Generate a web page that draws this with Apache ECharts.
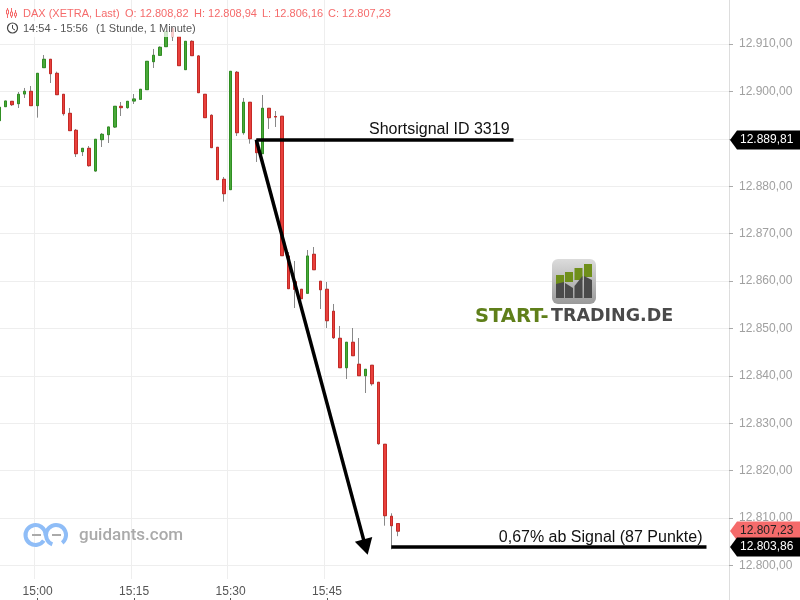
<!DOCTYPE html>
<html><head><meta charset="utf-8"><style>html,body{margin:0;padding:0;background:#fff}#c{width:800px;height:600px}</style>
<script src="https://cdn.jsdelivr.net/npm/echarts@6/dist/echarts.min.js"></script></head>
<body><div id="c"></div><script>
const opens=[12893.83,12896.78,12897.90,12897.41,12899.45,12900.01,12896.99,12905.01,12906.77,12903.81,12899.38,12895.37,12891.79,12887.29,12887.99,12883.21,12889.82,12890.87,12892.49,12896.85,12896.57,12897.97,12898.33,12900.37,12906.27,12907.61,12909.44,12913.31,12911.55,12904.59,12910.56,12907.47,12899.38,12894.95,12888.20,12881.45,12879.27,12904.03,12891.29,12897.70,12889.68,12886.86,12896.43,12894.70,12894.75,12865.27,12859.85,12858.25,12857.41,12865.63,12859.94,12858.25,12853.61,12847.91,12841.71,12847.07,12842.43,12840.02,12842.22,12838.63,12825.55,12810.36,12808.82];
const closes=[12896.64,12897.97,12897.20,12899.38,12900.01,12896.99,12903.81,12906.77,12903.74,12899.31,12895.30,12891.72,12886.86,12887.99,12884.33,12889.89,12890.94,12892.49,12896.85,12896.57,12897.90,12898.40,12900.44,12906.34,12907.61,12909.30,12912.60,12911.55,12905.43,12910.56,12907.54,12899.73,12894.46,12888.13,12881.38,12878.42,12904.23,12891.29,12897.70,12890.02,12887.07,12896.43,12894.45,12894.60,12865.34,12858.38,12858.25,12856.27,12865.27,12862.38,12858.16,12851.62,12848.04,12841.71,12847.07,12844.24,12840.02,12841.37,12838.33,12825.68,12810.49,12808.38,12807.23];
const lows=[12893.83,12896.78,12896.92,12896.50,12898.61,12896.99,12894.46,12905.01,12901.77,12899.31,12894.88,12891.72,12886.16,12886.37,12884.12,12883.07,12888.27,12889.11,12892.28,12894.81,12896.36,12897.34,12898.33,12900.37,12904.94,12907.61,12909.44,12910.63,12905.43,12904.59,12907.54,12899.73,12894.46,12888.13,12881.38,12876.74,12879.27,12890.59,12890.86,12888.97,12885.11,12886.86,12892.07,12892.49,12865.34,12858.38,12854.30,12856.27,12857.41,12862.38,12854.09,12850.08,12847.76,12841.71,12839.32,12844.24,12840.02,12836.37,12837.91,12825.46,12808.38,12803.40,12806.16];
const highs=[12896.64,12897.97,12897.90,12899.87,12900.72,12901.14,12903.81,12907.68,12906.77,12904.16,12899.38,12896.50,12892.07,12887.99,12888.48,12889.89,12891.22,12892.49,12896.85,12897.76,12897.90,12899.45,12900.44,12906.34,12908.95,12909.51,12912.60,12913.50,12911.55,12910.56,12910.77,12907.68,12899.38,12895.16,12888.20,12881.94,12904.23,12904.30,12898.61,12897.70,12889.68,12899.24,12896.43,12895.86,12894.75,12866.12,12864.22,12858.25,12866.54,12867.17,12859.94,12859.79,12855.15,12850.51,12847.07,12850.08,12847.97,12841.37,12842.22,12838.63,12825.55,12810.99,12808.94];
const priceTicks=[12800,12810,12820,12830,12840,12850,12860,12870,12880,12890,12900,12910];
const timeLabels=['15:00','15:15','15:30','15:45'];
const tagPrices=[12889.81,12807.23,12803.86];
const signalPrice=12889.81, targetPrice=12803.86;
const categories=[];
for(let i=0;i<114;i++){const m=14*60+54+i;categories.push(String(Math.floor(m/60)).padStart(2,'0')+':'+String(m%60).padStart(2,'0'));}
const de=v=>v.toLocaleString('de-DE',{minimumFractionDigits:2,maximumFractionDigits:2});
const showTime=(i,v)=>timeLabels.includes(v);
const FONT='"Liberation Sans", sans-serif';
const T=(text,x,y,fill,font)=>({type:'text',z:200,style:{text,x,y,fill,font:font||('11px '+FONT),align:'left',verticalAlign:'middle'}});
const R=(x,y,w,h,fill)=>({type:'rect',z:90,shape:{x,y,width:w,height:h},style:{fill}});
const P=(points,fill)=>({type:'polygon',z:91,shape:{points},style:{fill}});
const chart=echarts.init(document.getElementById('c'),null,{renderer:'canvas'});
chart.setOption({
 animation:false,
 grid:{left:-4.2,right:71,top:0,bottom:21,outerBoundsMode:'none'},
 xAxis:{type:'category',data:categories,boundaryGap:true,offset:19,
  axisLine:{show:false},axisTick:{show:true,alignWithLabel:true,interval:showTime,length:3,lineStyle:{color:'#555'}},
  axisLabel:{inside:true,margin:0,interval:showTime,color:'#555',fontFamily:FONT,fontSize:12},
  splitLine:{show:true,interval:showTime,lineStyle:{color:'#eeeeee',width:1}}},
 yAxis:{type:'value',position:'right',min:12797.13,max:12919.28,scale:true,
  axisLine:{show:true,lineStyle:{color:'#dddddd'}},
  axisTick:{show:true,length:4,customValues:priceTicks,lineStyle:{color:'#aaaaaa'}},
  axisLabel:{margin:10,customValues:priceTicks,formatter:v=>de(v),color:'#a0a0a0',fontFamily:FONT,fontSize:12},
  splitLine:{show:true,lineStyle:{color:'#eeeeee',width:1}}},
 series:[
  {type:'candlestick',name:'wick',barWidth:3,z:2,silent:true,
   data:opens.map((o,i)=>[o,closes[i],lows[i],highs[i]]),
   itemStyle:{color:'#888',color0:'#888',borderColor:'#888',borderColor0:'#888',borderWidth:1}},
  {type:'candlestick',name:'DAX',barWidth:3,z:3,
   data:opens.map((o,i)=>[o,closes[i],Math.min(o,closes[i]),Math.max(o,closes[i])]),
   itemStyle:{color:'#4aa83a',color0:'#e8403c',borderColor:'#2f8f22',borderColor0:'#c52a26',borderWidth:1},
   markLine:{silent:true,z:5,symbol:'none',animation:false,
    lineStyle:{color:'#000',width:3.5,type:'solid'},
    data:[
     [{coord:['15:34',signalPrice],symbol:'none',label:{show:true,formatter:'Shortsignal ID 3319',position:'insideEndTop',distance:[4,2],color:'#111',fontFamily:'Liberation Sans',fontSize:16}},{coord:['16:14',signalPrice],symbol:'none'}],
     [{coord:['15:34',signalPrice],symbol:'none',label:{show:false}},{coord:['15:51',targetPrice],symbol:'triangle',symbolSize:[18,16]}],
     [{coord:['15:55',targetPrice],symbol:'none',label:{show:true,formatter:'0,67% ab Signal (87 Punkte)',position:'insideEndTop',distance:[4,2],color:'#111',fontFamily:'Liberation Sans',fontSize:16}},{coord:['16:44',targetPrice],symbol:'none'}]
    ]}},
  {type:'custom',name:'tags',z:20,silent:true,clip:false,data:tagPrices.map((p,i)=>[0,p,i]),encode:{x:0,y:1},
   renderItem:(params,api)=>{
    const y=Math.round(api.coord([0,api.value(1)])[1]);const idx=api.value(2);
    const bg=idx===1?'#f56b6b':'#000', fg=idx===1?'#222':'#fff';
    return {type:'group',children:[
     {type:'polygon',shape:{points:[[730,y],[737,y-9.5],[800,y-9.5],[800,y+9.5],[737,y+9.5]]},style:{fill:bg}},
     {type:'text',style:{text:de(api.value(1)),x:740,y:y,fill:fg,font:'12px '+FONT,align:'left',verticalAlign:'middle'}}
    ]};
   }}
 ],
 graphic:{elements:[
  {type:'line',z:1,shape:{x1:729.5,y1:579,x2:729.5,y2:600},style:{stroke:'#dddddd',lineWidth:1}},
  {type:'rect',z:150,shape:{x:0,y:21,width:197,height:16},style:{fill:'rgba(255,255,255,0.75)'}},
  {type:'line',z:200,shape:{x1:7.5,y1:8,x2:7.5,y2:18},style:{stroke:'#f56b6b',lineWidth:1}},
  {type:'line',z:200,shape:{x1:11.5,y1:8,x2:11.5,y2:18},style:{stroke:'#f56b6b',lineWidth:1}},
  {type:'line',z:200,shape:{x1:15.5,y1:10,x2:15.5,y2:18},style:{stroke:'#f56b6b',lineWidth:1}},
  {type:'rect',z:201,shape:{x:6.5,y:10,width:2,height:4},style:{fill:'#fff',stroke:'#f56b6b'}},
  {type:'rect',z:201,shape:{x:10.5,y:12,width:2,height:4},style:{fill:'#fff',stroke:'#f56b6b'}},
  {type:'rect',z:201,shape:{x:14.5,y:13,width:2,height:3},style:{fill:'#fff',stroke:'#f56b6b'}},
  T('DAX (XETRA, Last)',23,13.5,'#f56b6b'),
  T('O: 12.808,82',125,13.5,'#f56b6b'),T('H: 12.808,94',194,13.5,'#f56b6b'),
  T('L: 12.806,16',262,13.5,'#f56b6b'),T('C: 12.807,23',328,13.5,'#f56b6b'),
  {type:'circle',z:200,shape:{cx:12.5,cy:28,r:5},style:{fill:'none',stroke:'#444',lineWidth:1.2}},
  {type:'polyline',z:200,shape:{points:[[12.5,25],[12.5,28.5],[15,30]]},style:{fill:'none',stroke:'#444',lineWidth:1}},
  T('14:54 - 15:56',23,29,'#555'),T('(1 Stunde, 1 Minute)',96,29,'#555'),
  {type:'arc',z:90,shape:{cx:35.5,cy:535,r:10,startAngle:0.6,endAngle:6.35},style:{fill:'none',stroke:'#8fbdf7',lineWidth:4}},
  {type:'arc',z:90,shape:{cx:56,cy:535,r:10,startAngle:1.95,endAngle:7.18},style:{fill:'none',stroke:'#8fbdf7',lineWidth:4}},
  {type:'line',z:91,shape:{x1:32,y1:535,x2:41,y2:535},style:{stroke:'#aaa',lineWidth:2}},
  {type:'line',z:91,shape:{x1:52,y1:535,x2:61,y2:535},style:{stroke:'#aaa',lineWidth:2}},
  {type:'text',z:90,style:{text:'guidants.com',x:79,y:535.5,fill:'#aaaaaa',font:'500 17px Roboto',align:'left',verticalAlign:'middle'}},
  {type:'rect',z:90,shape:{x:552,y:259,width:44,height:45,r:6},style:{fill:new echarts.graphic.LinearGradient(0,0,0,1,[{offset:0,color:'#dcdcdc'},{offset:1,color:'#9a9a9a'}])}},
  R(556,275,8,9,'#6f8f1a'),R(565,272,8,10,'#6f8f1a'),R(574.5,268,8,12,'#6f8f1a'),R(584,264,8,13,'#6f8f1a'),
  P([[556,284],[564,282],[564,298],[556,298]],'#4a4a4a'),P([[565,283],[573,288],[573,298],[565,298]],'#4a4a4a'),
  P([[574.5,286],[582.5,276],[582.5,298],[574.5,298]],'#4a4a4a'),P([[584,276],[592,280],[592,298],[584,298]],'#4a4a4a'),
  {type:'text',z:92,style:{text:'START-',x:475,y:316.5,fill:'#5f7f1a',font:'bold 19.5px "DejaVu Sans"',align:'left',verticalAlign:'middle'}},
  {type:'text',z:92,style:{text:'TRADING.DE',x:551,y:316.5,fill:'#4a4a4a',font:'bold 17.5px "DejaVu Sans"',align:'left',verticalAlign:'middle'}}
 ]}
});
</script></body></html>
